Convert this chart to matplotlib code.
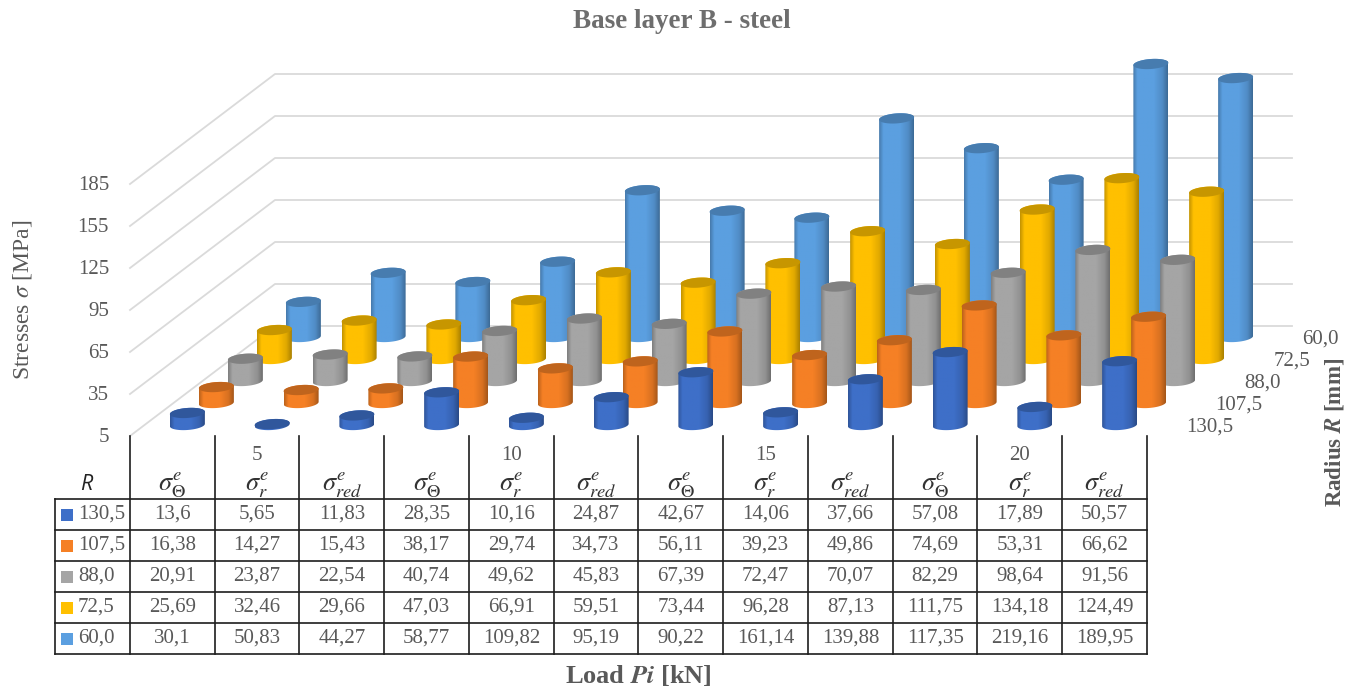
import numpy as np
import matplotlib
matplotlib.use("Agg")
import matplotlib.pyplot as plt
from matplotlib.patches import Polygon, Rectangle
from matplotlib.colors import to_rgb

plt.rcParams['font.family'] = ['Liberation Serif', 'DejaVu Serif']
plt.rcParams['mathtext.fontset'] = 'stix'

# data from the table
radius = ['130,5', '107,5', '88,0', '72,5', '60,0']
loads = ['5', '10', '15', '20']
colors = ['#3E6FC8', '#F58025', '#A5A5A5', '#FFC000', '#5B9FE0']

r130 = [13.6, 5.65, 11.83, 28.35, 10.16, 24.87, 42.67, 14.06, 37.66, 57.08, 17.89, 50.57]
r107 = [16.38, 14.27, 15.43, 38.17, 29.74, 34.73, 56.11, 39.23, 49.86, 74.69, 53.31, 66.62]
r88 = [20.91, 23.87, 22.54, 40.74, 49.62, 45.83, 67.39, 72.47, 70.07, 82.29, 98.64, 91.56]
r72 = [25.69, 32.46, 29.66, 47.03, 66.91, 59.51, 73.44, 96.28, 87.13, 111.75, 134.18, 124.49]
r60 = [30.1, 50.83, 44.27, 58.77, 109.82, 95.19, 90.22, 161.14, 139.88, 117.35, 219.16, 189.95]
rows = [r130, r107, r88, r72, r60]
row_text = [
    ['13,6', '5,65', '11,83', '28,35', '10,16', '24,87', '42,67', '14,06', '37,66', '57,08', '17,89', '50,57'],
    ['16,38', '14,27', '15,43', '38,17', '29,74', '34,73', '56,11', '39,23', '49,86', '74,69', '53,31', '66,62'],
    ['20,91', '23,87', '22,54', '40,74', '49,62', '45,83', '67,39', '72,47', '70,07', '82,29', '98,64', '91,56'],
    ['25,69', '32,46', '29,66', '47,03', '66,91', '59,51', '73,44', '96,28', '87,13', '111,75', '134,18', '124,49'],
    ['30,1', '50,83', '44,27', '58,77', '109,82', '95,19', '90,22', '161,14', '139,88', '117,35', '219,16', '189,95'],
]
stress_ticks = [5, 35, 65, 95, 125, 155, 185]
stress_names = [r'$\sigma_{\mathit{\Theta}}^{e}$', r'$\sigma_{r}^{e}$', r'$\sigma_{red}^{e}$']

axis_min = 5
axis_max = 200  # the tallest bar is cut off here in the original

# layout in pixels
x0, y0 = 130, 436
col_w = 84.75
depth_x, depth_y = 145, 110
px_per_mpa = 1.4
radius_a, radius_b = 17.5, 5
tilt = 1.2
table_left = 55
line_ys = [499, 530, 561, 592, 623, 654]
text_col = '#595959'
line_col = '#1e1e1e'


def project(col, row, value):
    f = (row + 0.5) / len(radius)
    x = x0 + (col + 0.5) * col_w + depth_x * f + 0.5
    y = y0 - depth_y * f - (value - axis_min) * px_per_mpa
    return x, y


def ellipse_pts(cx, cy, t):
    return cx + radius_a * np.cos(t), cy + radius_b * np.sin(t) - tilt * np.cos(t)


def cylinder(ax, col, row, value, color):
    cx, top = project(col, row, min(value, axis_max))
    _, bottom = project(col, row, axis_min)
    base = np.array(to_rgb(color))
    z = 3 + (len(radius) - row)

    t = np.linspace(0, np.pi, 40)
    bx, by = ellipse_pts(cx, bottom, t)
    tx, ty = ellipse_pts(cx, top, t + np.pi)
    body = Polygon(np.r_[np.c_[bx, by], np.c_[tx, ty]], closed=True,
                   facecolor='none', edgecolor='none', transform=ax.transData, zorder=z)
    ax.add_patch(body)

    u = np.linspace(0, 1, 36)
    shade = np.interp(u, [0, 0.12, 0.6, 0.85, 1], [0.78, 1.0, 1.0, 0.88, 0.68])
    grad = (base[None, :] * shade[:, None])[None, :, :]
    im = ax.imshow(grad, extent=(cx - radius_a, cx + radius_a, bottom + radius_b + 2, top - radius_b - 2),
                   aspect='auto', interpolation='bilinear', zorder=z)
    im.set_clip_path(body)

    a = np.linspace(0, 2 * np.pi, 60)
    ex, ey = ellipse_pts(cx, top, a)
    cap = Polygon(np.c_[ex, ey], closed=True, facecolor=base * 0.78, edgecolor='none', zorder=z)
    ax.add_patch(cap)


fig = plt.figure(figsize=(13.61, 6.88), dpi=100)
ax = fig.add_axes([0, 0, 1, 1])
ax.set_xlim(0, 1361)
ax.set_ylim(688, 0)
ax.autoscale(False)
ax.axis('off')

# grid walls
x_right = x0 + len(r60) * col_w
for v in stress_ticks:
    yf = y0 - (v - axis_min) * px_per_mpa
    ax.plot([x0, x0 + depth_x, x_right + depth_x], [yf, yf - depth_y, yf - depth_y],
            color='#DADADA', lw=1.3, zorder=1)
    ax.text(x0 - 21, yf + 1, str(v), ha='right', va='center', fontsize=15, color=text_col)

# cylinders, back row first
for row in range(len(rows) - 1, -1, -1):
    for col, value in enumerate(rows[row]):
        cylinder(ax, col, row, value, colors[row])

    f = (row + 0.5) / len(radius)
    ax.text(x_right + depth_x * f + 25, y0 - depth_y * f + 2, radius[row], ha='left', va='center',
            fontsize=15, color=text_col)

# table lines
for i in range(len(r60) + 1):
    x = x0 + i * col_w
    ax.plot([x, x], [y0, line_ys[-1]], color=line_col, lw=1.2, zorder=2)
for y in line_ys:
    ax.plot([table_left, x_right], [y, y], color=line_col, lw=1.2, zorder=2)
ax.plot([table_left, table_left], [line_ys[0], line_ys[-1]], color=line_col, lw=1.2, zorder=2)

# table header
ax.text(86, 484, 'R', ha='center', va='center', fontsize=15.5, style='italic',
        family=['Open Sans', 'DejaVu Sans'], color='#222222')
for i, load in enumerate(loads):
    ax.text(x0 + (3 * i + 1.5) * col_w, 456, load, ha='center', va='center', fontsize=15, color=text_col)
for col in range(len(r60)):
    ax.text(x0 + (col + 0.5) * col_w, 485, stress_names[col % 3], ha='center', va='center',
            fontsize=19, color='#333333')

# table body
for row in range(len(rows)):
    yc = (line_ys[row] + line_ys[row + 1]) / 2
    ax.add_patch(Rectangle((61, yc - 6), 12, 12, facecolor=colors[row], edgecolor='none', zorder=3))
    ax.text(78, yc, radius[row], ha='left', va='center', fontsize=15, color=text_col)
    for col in range(len(r60)):
        ax.text(x0 + (col + 0.5) * col_w, yc, row_text[row][col], ha='center', va='center',
                fontsize=15, color=text_col)

# titles
ax.text(682, 22, 'Base layer B - steel', ha='center', va='center', fontsize=19.5, fontweight='bold',
        color='#6E6E6E')
ax.text(23, 300, r'Stresses $\sigma$ [MPa]', rotation=90, ha='center', va='center', fontsize=17,
        color=text_col)
ax.text(1335, 432, r'Radius $\mathbfit{R}$ [mm]', rotation=90,
        ha='center', va='center', fontsize=16.5, color=text_col, fontweight='bold')
ax.text(638, 676, r'Load $\mathbfit{Pi}$ [kN]', ha='center', va='center', fontsize=19, color=text_col,
        fontweight='bold')

fig.savefig('out.png', dpi=100)
